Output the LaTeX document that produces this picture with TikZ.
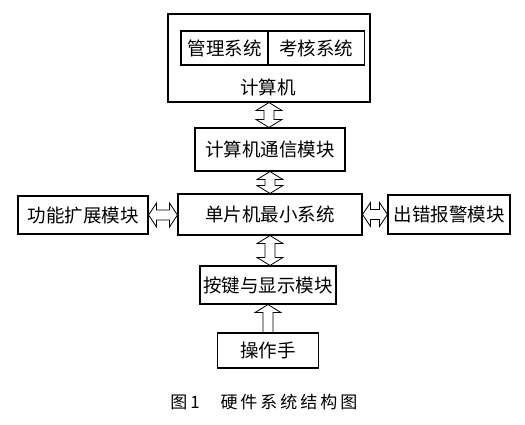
\documentclass[tikz,border=0pt]{standalone}
\usepackage{fontspec}
\newfontfamily\cjk{Noto Sans CJK SC}
\usetikzlibrary{calc}

% hollow double arrow, vertical (top anchor, bottom anchor)
\newcommand{\vbiarrow}[2]{%
  \draw[blockarrow] let \p1=(#1), \p2=(#2) in
    (\x1,\y1) -- (\x1+13pt,\y1-8pt) -- (\x1+5pt,\y1-8pt) -- (\x1+5pt,\y2+8pt)
    -- (\x1+13pt,\y2+8pt) -- (\x1,\y2) -- (\x1-13pt,\y2+8pt) -- (\x1-5pt,\y2+8pt)
    -- (\x1-5pt,\y1-8pt) -- (\x1-13pt,\y1-8pt) -- cycle;}
% hollow double arrow, horizontal (left anchor, right anchor)
\newcommand{\hbiarrow}[2]{%
  \draw[blockarrow] let \p1=(#1), \p2=(#2) in
    (\x1,\y1) -- (\x1+8pt,\y1+12pt) -- (\x1+8pt,\y1+5pt) -- (\x2-8pt,\y1+5pt)
    -- (\x2-8pt,\y1+12pt) -- (\x2,\y1) -- (\x2-8pt,\y1-12pt) -- (\x2-8pt,\y1-5pt)
    -- (\x1+8pt,\y1-5pt) -- (\x1+8pt,\y1-12pt) -- cycle;}
% hollow single arrow pointing up (bottom anchor, top anchor)
\newcommand{\upblkarrow}[2]{%
  \draw[blockarrow] let \p1=(#1), \p2=(#2) in
    (\x1-5pt,\y1) -- (\x1-5pt,\y2-8pt) -- (\x1-13pt,\y2-8pt) -- (\x1,\y2)
    -- (\x1+13pt,\y2-8pt) -- (\x1+5pt,\y2-8pt) -- (\x1+5pt,\y1);}

\begin{document}
\begin{tikzpicture}[
            x = 1pt, y = -1pt, % pixel like units, y downwards
            blockarrow/.style = {draw = black, line width = 0.8pt, line join = miter},
            capt/.style = {inner sep = 0pt, font = \cjk\fontsize{17}{20}\selectfont}
        ]

        \tikzstyle{box}=[
            draw = black,
            line width = 1.1pt,
            inner sep = 0pt,
            font = \cjk\fontsize{18.5}{22}\selectfont
        ]

        \useasboundingbox (0,0) rectangle (525,424);

        % computer with its two programs
        \node[box, minimum width = 202pt, minimum height = 88pt] (pc) at (269,58) {};
        \node[box, minimum width = 87pt, minimum height = 34pt] (mgmt) at (224.5,48) {管理系统};
        \node[box, minimum width = 97pt, minimum height = 34pt] (exam) at (316,48) {考核系统};
        \node[font = \cjk\fontsize{18.5}{22}\selectfont, inner sep = 0pt] (pclabel) at (268,87) {计算机};

        \node[box, minimum width = 150pt, minimum height = 43pt] (comm) at (270,149.5) {计算机通信模块};
        \node[box, minimum width = 184pt, minimum height = 41pt] (mcu) at (270,214.5) {单片机最小系统};
        \node[box, minimum width = 130pt, minimum height = 38pt] (ext) at (83,215) {功能扩展模块};
        \node[box, minimum width = 122pt, minimum height = 39pt] (alarm) at (449,214.5) {出错报警模块};
        \node[box, minimum width = 136pt, minimum height = 38pt] (key) at (268,285) {按键与显示模块};
        \node[box, minimum width = 101pt, minimum height = 35pt] (op) at (268,350.5) {操作手};

        \vbiarrow{pc.south}{comm.north}
        \vbiarrow{comm.south}{mcu.north}
        \vbiarrow{mcu.south}{key.north}
        \upblkarrow{op.north}{key.south}
        \hbiarrow{ext.east}{mcu.west}
        \hbiarrow{mcu.east}{alarm.west}

        % caption
        \node[capt] (fignum) at (185,402) {图\hspace{3pt}1};
        \node[capt] (figtitle) at (289,402) {硬\hspace{3pt}件\hspace{3pt}系\hspace{3pt}统\hspace{3pt}结\hspace{3pt}构\hspace{3pt}图};
    \end{tikzpicture}
\end{document}
